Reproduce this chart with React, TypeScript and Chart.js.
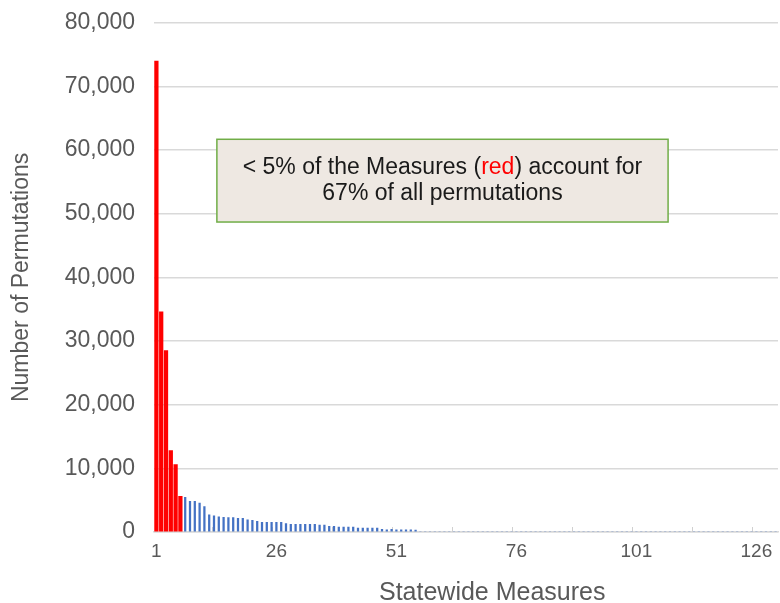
import { useEffect, useRef } from 'react';
import { Chart, registerables } from 'chart.js';

Chart.register(...registerables);

// Number of permutations for each statewide measure (1..130)
const permutations: number[] = [
  74000, 34600, 28500, 12800, 10600, 5600,
  5450, 4830, 4800, 4550, 4000, 2700, 2530, 2400, 2300, 2280, 2280, 2130, 2130, 1930,
  1820, 1670, 1510, 1510, 1510, 1510, 1510, 1320, 1200, 1200,
  1200, 1200, 1200, 1200, 1090, 1090, 880, 900, 770, 770,
  770, 770, 620, 620, 620, 620, 620, 410, 360, 410,
  360, 360, 360, 360, 300, 0, 0, 0, 0, 0,
  0, 0, 0, 0, 0, 0, 0, 0, 0, 0,
  0, 0, 0, 0, 0, 0, 0, 0, 0, 0,
  0, 0, 0, 0, 0, 0, 0, 0, 0, 0,
  0, 0, 0, 0, 0, 0, 0, 0, 0, 0,
  0, 0, 0, 0, 0, 0, 0, 0, 0, 0,
  0, 0, 0, 0, 0, 0, 0, 0, 0, 0,
  0, 0, 0, 0, 0, 0, 0, 0, 0, 0,
];

// The measures highlighted in red
const highlightedCount = 6;

const measures: string[] = permutations.map((_, i) => String(i + 1));
const xTickLabels: string[] = ['1', '26', '51', '76', '101', '126'];
// small inner tick marks on the category axis (in category-index units)
const xTickMarks: number[] = [11.6, 24.1, 36.6, 49.1, 61.6, 74.1, 86.6, 99.1, 111.6, 124.1];

const yMax = 80000;
const yStep = 10000;

const xTitle = 'Statewide Measures';
const yTitle = 'Number of Permutations';

const noteLine1 = [
  { text: '< 5% of the Measures (', color: '#1a1a1a' },
  { text: 'red', color: '#FF0000' },
  { text: ') account for', color: '#1a1a1a' },
];
const noteLine2 = '67% of all permutations';

const FONT = "'Liberation Sans', Arial, sans-serif";

const notePlugin = {
  id: 'noteBox',
  beforeDatasetsDraw(chart: any) {
    const { ctx, chartArea, scales } = chart;
    const x = scales.x;
    ctx.save();
    ctx.strokeStyle = '#D0D0D0';
    ctx.lineWidth = 1;
    for (const t of xTickMarks) {
      const px = Math.round(x.getPixelForValue(t)) + 0.5;
      ctx.beginPath();
      ctx.moveTo(px, chartArea.bottom);
      ctx.lineTo(px, chartArea.bottom - 5);
      ctx.stroke();
    }
    ctx.restore();
  },
  afterDraw(chart: any) {
    const { ctx, chartArea, scales } = chart;
    const x = scales.x;
    const y = scales.y;
    ctx.save();
    // annotation box
    const left = x.getPixelForValue(12.6);
    const right = x.getPixelForValue(106.6);
    const top = y.getPixelForValue(61700);
    const bottom = y.getPixelForValue(48700);
    ctx.fillStyle = '#EEE8E2';
    ctx.fillRect(left, top, right - left, bottom - top);
    ctx.strokeStyle = '#70AD47';
    ctx.lineWidth = 1.5;
    ctx.strokeRect(left, top, right - left, bottom - top);

    ctx.font = `23px ${FONT}`;
    ctx.textBaseline = 'middle';
    ctx.textAlign = 'left';
    const cx = (left + right) / 2;
    const cy = (top + bottom) / 2;
    const lh = 26;
    const total = noteLine1.reduce((s, p) => s + ctx.measureText(p.text).width, 0);
    let px = cx - total / 2;
    for (const p of noteLine1) {
      ctx.fillStyle = p.color;
      ctx.fillText(p.text, px, cy - lh / 2);
      px += ctx.measureText(p.text).width;
    }
    ctx.fillStyle = '#1a1a1a';
    ctx.textAlign = 'center';
    ctx.fillText(noteLine2, cx, cy + lh / 2);

    // x axis title
    ctx.fillStyle = '#595959';
    ctx.font = `25px ${FONT}`;
    ctx.textAlign = 'center';
    const tx = chartArea.left + (chartArea.right - chartArea.left) * 0.542;
    ctx.fillText(xTitle, tx, 593);
    ctx.restore();
  },
};

export default function App() {
  const ref = useRef<HTMLCanvasElement | null>(null);

  useEffect(() => {
    if (!ref.current) return;
    const red = permutations.map((v, i) => (i < highlightedCount ? v : null));
    const blue = permutations.map((v, i) => (i >= highlightedCount ? v : null));
    const chart = new Chart(ref.current, {
      type: 'bar',
      data: {
        labels: measures,
        datasets: [
          {
            label: 'Highlighted',
            data: red,
            backgroundColor: '#FF0000',
            barThickness: 3.6,
            grouped: false,
          } as any,
          {
            label: 'Other',
            data: blue,
            backgroundColor: '#4472C4',
            barThickness: 1.6,
            grouped: false,
          } as any,
        ],
      },
      options: {
        animation: false,
        responsive: true,
        maintainAspectRatio: false,
        layout: { padding: { top: 0, right: 2, left: 0, bottom: 0 } },
        plugins: {
          legend: { display: false },
          tooltip: { enabled: false },
        },
        scales: {
          x: {
            grid: {
              display: true,
              drawOnChartArea: false,
              drawTicks: true,
              tickLength: 8,
              tickColor: 'transparent',
              color: 'transparent',
            },
            border: { display: true, color: '#D9D9D9', width: 1.5 },
            ticks: {
              autoSkip: false,
              maxRotation: 0,
              minRotation: 0,
              padding: 0,
              color: '#595959',
              font: { family: FONT, size: 19 },
              callback: (_v: any, i: number) =>
                xTickLabels.includes(measures[i]) ? measures[i] : '',
            },
            afterFit: (scale: any) => {
              scale.height = 71;
            },
          },
          y: {
            min: 0,
            max: yMax,
            grid: {
              color: '#D9D9D9',
              lineWidth: 1.5,
              drawTicks: true,
              tickLength: 10,
              tickColor: 'transparent',
            },
            border: { display: false },
            ticks: {
              stepSize: yStep,
              padding: 9,
              color: '#595959',
              font: { family: FONT, size: 23 },
              callback: (v: any) => Number(v).toLocaleString('en-US'),
            },
            title: {
              display: true,
              text: yTitle,
              color: '#595959',
              font: { family: FONT, size: 23 },
              padding: { top: 8, bottom: 0 },
            },
            afterFit: (scale: any) => {
              scale.width = 154;
            },
          },
        },
      },
      plugins: [notePlugin],
    });
    return () => chart.destroy();
  }, []);

  return (
    <div style={{ position: 'fixed', left: 0, top: 0, width: 780, height: 603 }}>
      <canvas ref={ref} />
    </div>
  );
}
